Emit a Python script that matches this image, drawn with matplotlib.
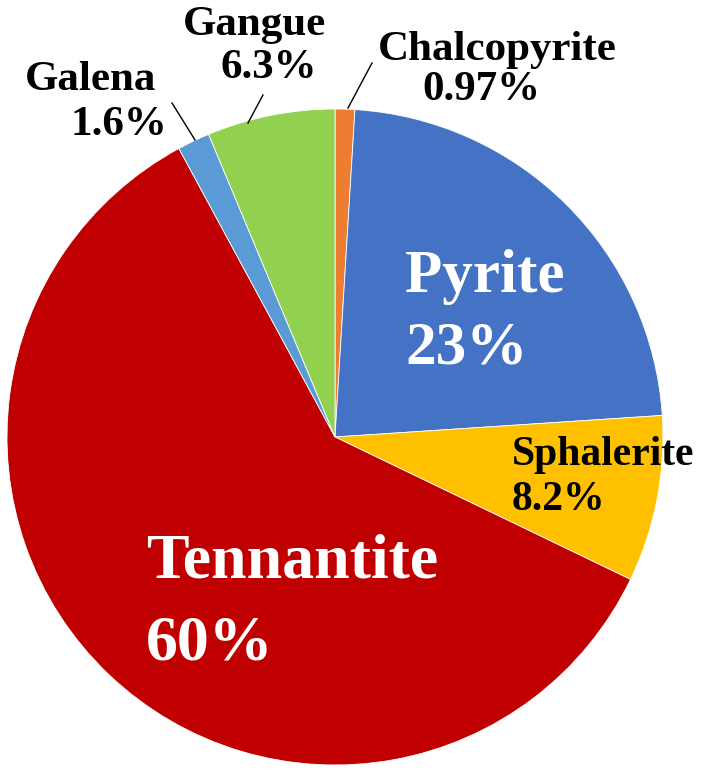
import matplotlib.pyplot as plt

# datos del gráfico (sentido horario desde arriba)
minerales = ['Chalcopyrite', 'Pyrite', 'Sphalerite', 'Tennantite', 'Galena', 'Gangue']
porcentajes = [0.97, 23, 8.2, 60, 1.6, 6.3]
colores = ['#ED7D31', '#4472C4', '#FFC000', '#C00000', '#5B9BD5', '#92D050']

W, H = 709, 774


def py(y):
    # pasar de coordenada de pixel (desde arriba) a coordenada de datos
    return H - y


fig = plt.figure(figsize=(W / 100, H / 100), dpi=100)
ax = fig.add_axes([0, 0, 1, 1])

ax.pie(porcentajes, colors=colores, startangle=90, counterclock=False,
       center=(335, py(437)), radius=328,
       wedgeprops=dict(edgecolor='white', linewidth=0.6))

ax.set_xlim(0, W)
ax.set_ylim(0, H)
ax.set_aspect('equal')
ax.axis('off')

fuente = 'Liberation Serif'
etiquetas = [f'{v:g}%' for v in porcentajes]

# posición (x izquierda, línea base nombre, línea base %, x del %), tamaño, color
estilo = {
    'Chalcopyrite': (378, 60, 100, 422, 31, 'black'),
    'Pyrite': (405, 292, 363, 405, 44, 'white'),
    'Sphalerite': (512, 465, 510, 512, 30, 'black'),
    'Tennantite': (146, 577, 660, 146, 46, 'white'),
    'Galena': (25, 90, 135, 70, 31, 'black'),
    'Gangue': (183, 35, 78, 220, 31, 'black'),
}

for nombre, pct in zip(minerales, etiquetas):
    x1, y1, y2, x2, fs, col = estilo[nombre]
    ax.text(x1, py(y1), nombre, fontsize=fs, color=col, family=fuente,
            fontweight='bold', ha='left', va='baseline')
    ax.text(x2, py(y2), pct, fontsize=fs, color=col, family=fuente,
            fontweight='bold', ha='left', va='baseline')

# líneas guía
guias = [((372, 63), (348, 108)),
         ((263, 95), (248, 123)),
         ((172, 103), (195, 140))]
for (xa, ya), (xb, yb) in guias:
    ax.plot([xa, xb], [py(ya), py(yb)], color='black', lw=1)

fig.savefig('out.png', dpi=100, facecolor='white')
